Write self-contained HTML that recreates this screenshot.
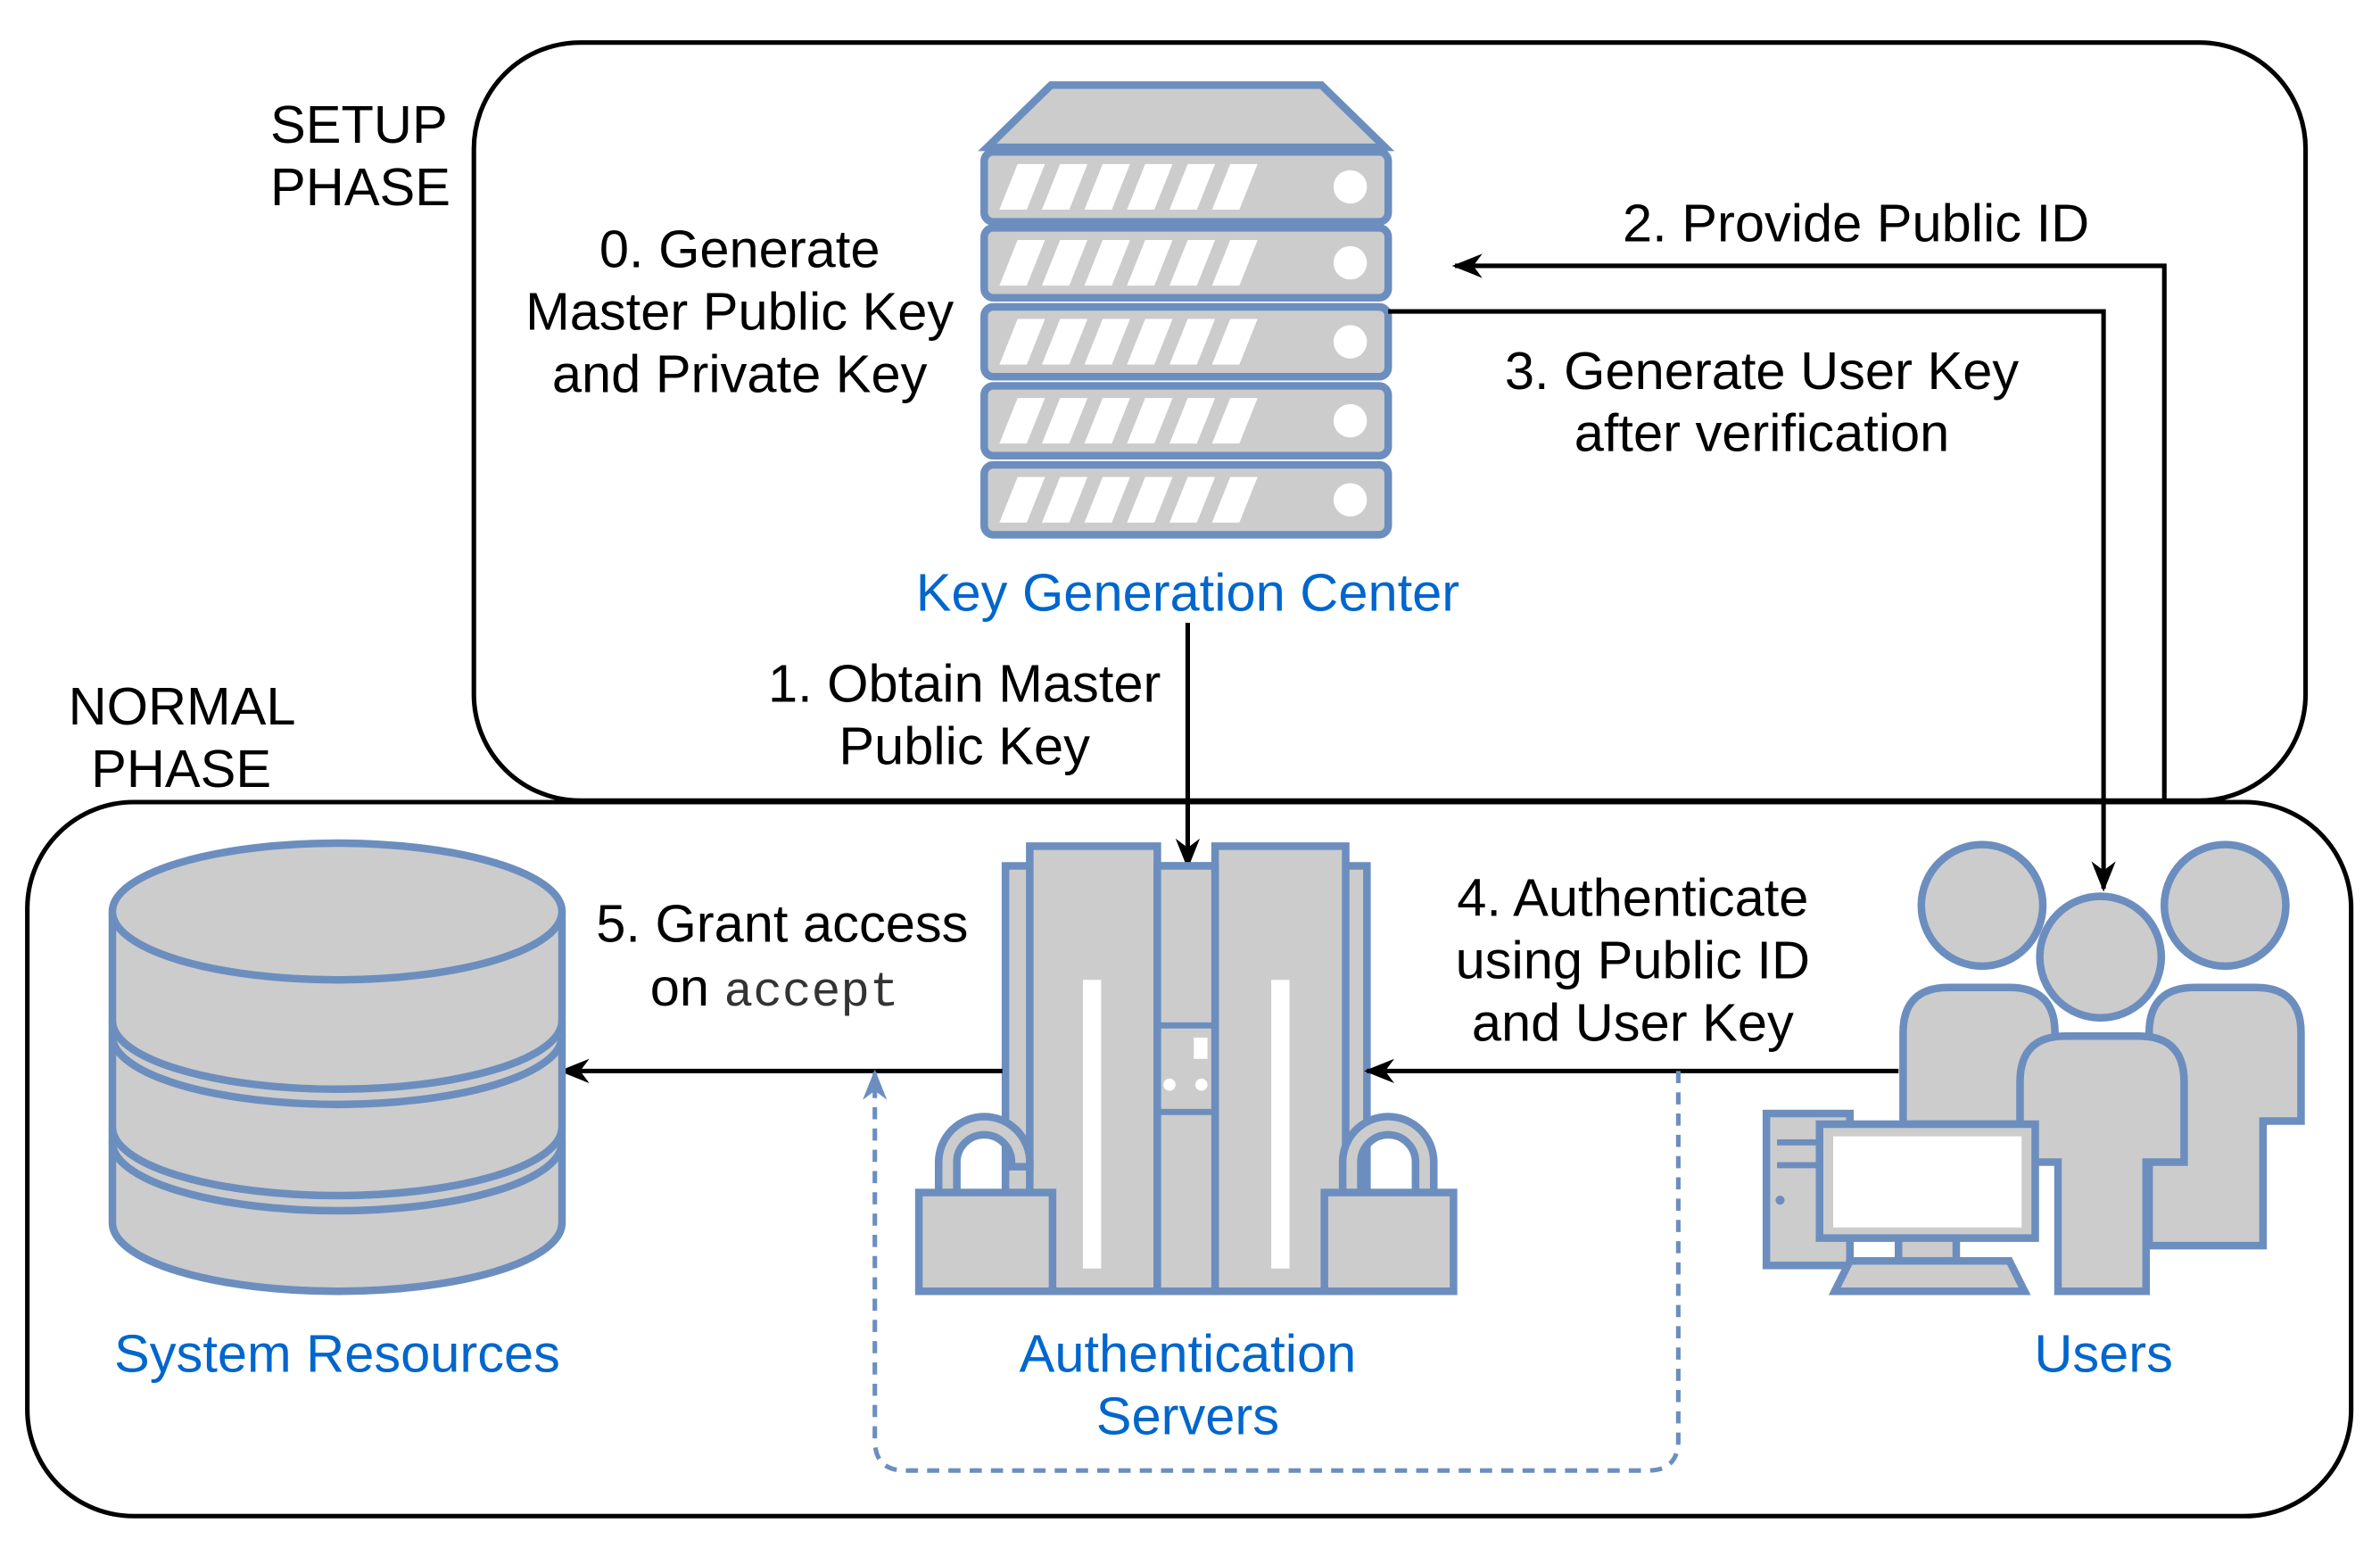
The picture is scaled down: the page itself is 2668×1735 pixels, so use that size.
<!DOCTYPE html>
<html><head><meta charset="utf-8"><style>
html,body{margin:0;padding:0;background:#fff}
svg{display:block}
text{font-family:"Liberation Sans",sans-serif;font-size:35px;fill:#000}
.b{fill:#0066cc}
.s{fill:#ccc;stroke:#6c8ebf;stroke-width:5}
</style></head><body>
<svg width="2668" height="1735" viewBox="0 0 1567 1019" preserveAspectRatio="none" xmlns="http://www.w3.org/2000/svg">
<defs>
<marker id="a" markerWidth="20" markerHeight="20" refX="18" refY="10" orient="auto" markerUnits="userSpaceOnUse" viewBox="0 0 20 20"><path d="M0,2 L20,10 L0,18 L6,10z" fill="#000"/></marker>
<marker id="ab" markerWidth="20" markerHeight="20" refX="18" refY="10" orient="auto" markerUnits="userSpaceOnUse" viewBox="0 0 20 20"><path d="M0,2 L20,10 L0,18 L6,10z" fill="#6c8ebf"/></marker>
</defs>
<rect x="312" y="28" width="1206" height="499" rx="70" fill="none" stroke="#000" stroke-width="3"/>
<rect x="18" y="528" width="1530" height="470" rx="70" fill="none" stroke="#000" stroke-width="3"/>
<text x="178" y="94">SETUP</text><text x="178" y="135">PHASE</text>
<text x="45" y="477">NORMAL</text><text x="60" y="518">PHASE</text>

<path class="s" d="M650,97 L692,56 L870,56 L912,97z"/>
<g>
<rect class="s" x="648" y="100" width="266" height="46" rx="6"/>
<rect class="s" x="648" y="150" width="266" height="46" rx="6"/>
<rect class="s" x="648" y="202" width="266" height="46" rx="6"/>
<rect class="s" x="648" y="254" width="266" height="46" rx="6"/>
<rect class="s" x="648" y="306" width="266" height="46" rx="6"/>
</g>
<g fill="#fff">
<path d="M670,108h18l-12,30h-18z M698,108h18l-12,30h-18z M726,108h18l-12,30h-18z M754,108h18l-12,30h-18z M782,108h18l-12,30h-18z M810,108h18l-12,30h-18z"/>
<path d="M670,158h18l-12,30h-18z M698,158h18l-12,30h-18z M726,158h18l-12,30h-18z M754,158h18l-12,30h-18z M782,158h18l-12,30h-18z M810,158h18l-12,30h-18z"/>
<path d="M670,210h18l-12,30h-18z M698,210h18l-12,30h-18z M726,210h18l-12,30h-18z M754,210h18l-12,30h-18z M782,210h18l-12,30h-18z M810,210h18l-12,30h-18z"/>
<path d="M670,262h18l-12,30h-18z M698,262h18l-12,30h-18z M726,262h18l-12,30h-18z M754,262h18l-12,30h-18z M782,262h18l-12,30h-18z M810,262h18l-12,30h-18z"/>
<path d="M670,314h18l-12,30h-18z M698,314h18l-12,30h-18z M726,314h18l-12,30h-18z M754,314h18l-12,30h-18z M782,314h18l-12,30h-18z M810,314h18l-12,30h-18z"/>
<circle cx="889" cy="123" r="11"/><circle cx="889" cy="173" r="11"/><circle cx="889" cy="225" r="11"/><circle cx="889" cy="277" r="11"/><circle cx="889" cy="329" r="11"/>
</g>
<text class="b" x="782" y="402" text-anchor="middle">Key Generation Center</text>
<text x="487" y="176" text-anchor="middle">0. Generate</text>
<text x="487" y="217" text-anchor="middle">Master Public Key</text>
<text x="487" y="258" text-anchor="middle">and Private Key</text>

<path d="M1425,528 V175 H958" fill="none" stroke="#000" stroke-width="3" marker-end="url(#a)"/>
<path d="M914,205 H1385 V585" fill="none" stroke="#000" stroke-width="3" marker-end="url(#a)"/>
<text x="1222" y="159" text-anchor="middle">2. Provide Public ID</text>
<text x="1160" y="256" text-anchor="middle">3. Generate User Key</text>
<text x="1160" y="297" text-anchor="middle">after verification</text>

<path d="M782,410 V570" fill="none" stroke="#000" stroke-width="3" marker-end="url(#a)"/>
<text x="635" y="462" text-anchor="middle">1. Obtain Master</text>
<text x="635" y="503" text-anchor="middle">Public Key</text>

<rect class="s" x="662" y="570" width="238" height="280"/>
<rect class="s" x="678" y="557" width="84" height="293"/>
<rect class="s" x="800" y="557" width="86" height="293"/>
<rect class="s" x="762" y="570" width="38" height="280"/>
<rect x="713" y="645" width="12" height="190" fill="#fff"/>
<rect x="837" y="645" width="12" height="190" fill="#fff"/>
<line x1="762" y1="675" x2="800" y2="675" stroke="#6c8ebf" stroke-width="4"/>
<line x1="762" y1="732" x2="800" y2="732" stroke="#6c8ebf" stroke-width="4"/>
<circle cx="770" cy="714" r="4" fill="#fff"/><circle cx="791" cy="714" r="4" fill="#fff"/>
<rect x="786" y="683" width="9" height="14" fill="#fff"/>
<path d="M618,785 V765 a30,30 0 0 1 60,0 V768 h-12 V765 a18,18 0 0 0 -36,0 V785z" class="s"/>
<rect class="s" x="605" y="785" width="88" height="65"/>
<path d="M884,785 V765 a30,30 0 0 1 60,0 V785 h-12 V765 a18,18 0 0 0 -36,0 V785z" class="s"/>
<rect class="s" x="872" y="785" width="85" height="65"/>
<text class="b" x="782" y="903" text-anchor="middle">Authentication</text>
<text class="b" x="782" y="944" text-anchor="middle">Servers</text>

<path d="M1250,705 H900" fill="none" stroke="#000" stroke-width="3" marker-end="url(#a)"/>
<path d="M660,705 H370" fill="none" stroke="#000" stroke-width="3" marker-end="url(#a)"/>
<text x="1075" y="603" text-anchor="middle">4. Authenticate</text>
<text x="1075" y="644" text-anchor="middle">using Public ID</text>
<text x="1075" y="685" text-anchor="middle">and User Key</text>
<text x="515" y="620" text-anchor="middle">5. Grant access</text>
<text x="428" y="662">on <tspan style="font-family:'Liberation Mono',monospace;fill:#333;font-size:32px">accept</tspan></text>
<path d="M1105,705 V948 Q1105,968 1085,968 H596 Q576,968 576,948 V706" fill="none" stroke="#6c8ebf" stroke-width="3" stroke-dasharray="8,6" marker-end="url(#ab)"/>

<path class="s" d="M74,600 V805 A148,45 0 0 0 370,805 V600"/>
<path d="M74,672 A148,45 0 0 0 370,672 M74,682 A148,45 0 0 0 370,682 M74,742 A148,45 0 0 0 370,742 M74,752 A148,45 0 0 0 370,752" fill="none" stroke="#6c8ebf" stroke-width="5"/>
<ellipse class="s" cx="222" cy="600" rx="148" ry="45"/>
<text class="b" x="222" y="903" text-anchor="middle">System Resources</text>

<circle class="s" cx="1465" cy="596" r="40"/>
<path class="s" d="M1415,820 V680 q0,-30 30,-30 h40 q30,0 30,30 V738 h-25 V820z"/>
<circle class="s" cx="1305" cy="596" r="40"/>
<path class="s" d="M1253,740 V680 q0,-30 30,-30 h40 q30,0 30,30 V740z"/>
<circle class="s" cx="1383" cy="630" r="40"/>
<path class="s" d="M1330,765 V712 q0,-30 30,-30 h48 q30,0 30,30 V765 h-25 V850 h-58 V765z"/>
<rect class="s" x="1163" y="733" width="55" height="100"/>
<rect x="1170" y="750" width="40" height="4" fill="#6c8ebf"/><rect x="1170" y="765" width="40" height="4" fill="#6c8ebf"/><circle cx="1172" cy="790" r="3" fill="#6c8ebf"/>
<rect class="s" x="1198" y="740" width="142" height="75"/>
<rect x="1207" y="748" width="124" height="60" fill="#fff"/>
<rect class="s" x="1250" y="815" width="38" height="15"/>
<path class="s" d="M1218,830 h105 l10,20 h-125z"/>
<text class="b" x="1385" y="903" text-anchor="middle">Users</text>
</svg>
</body></html>
